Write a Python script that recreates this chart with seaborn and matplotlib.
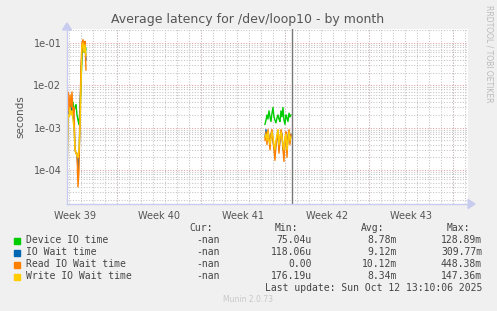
import numpy as np
import pandas as pd
import matplotlib
matplotlib.use("Agg")
import matplotlib.pyplot as plt
import matplotlib.ticker as mticker
import seaborn as sns

# ---- data ----
series_names = ["Device IO time", "IO Wait time", "Read IO Wait time", "Write IO Wait time"]
series_colors = ["#00CC00", "#0066B3", "#FF8000", "#FFCC00"]

# time in days since start of week 39; samples every 2 hours
burst1_start = 2.83
burst2_start = 19.33
step = 1.0 / 12.0

device_b1 = [3.5e-3, 2.5e-3, 4e-3, 3e-3, 5e-3, 3e-3, 4e-3, 2.5e-3, 3e-3, 3.5e-3,
             2e-3, 1.5e-3, 1.2e-3, 3e-3, 1e-2, 5e-2, 8e-2, 6e-2, 9e-2, 7e-2]
iowait_b1 = [4e-5, 5e-3, 2e-3, 4e-3, 2.5e-3, 4e-3, 2e-3, 1.5e-3, 3e-4, 2.5e-4,
             2.3e-4, 1e-4, 2e-4, 1.5e-3, 2e-2, 6e-2, 1e-1, 7e-2, 9e-2, 4e-2]
read_b1 = [4e-5, 7e-3, 2.5e-3, 6e-3, 3e-3, 7e-3, 2e-3, 3e-3, 3e-4, 2.5e-4,
           2.5e-4, 4e-5, 1e-4, 2e-3, 3e-2, 1e-1, 1.2e-1, 8e-2, 1.1e-1, 2.3e-2]
write_b1 = [4e-5, 2e-3, 1.8e-3, 3e-3, 2e-3, 2.5e-3, 1.5e-3, 1e-3, 3e-4, 2.5e-4,
            2.2e-4, 2e-4, 3e-4, 1e-3, 1e-2, 8e-2, 1e-1, 6e-2, 9e-2, 5e-2]

device_b2 = [1.2e-3, 1.5e-3, 2e-3, 1.6e-3, 2.5e-3, 1.8e-3, 1.4e-3, 2.2e-3, 3e-3, 1.8e-3,
             1.5e-3, 1.3e-3, 1.7e-3, 2e-3, 1.6e-3, 1.4e-3, 2.5e-3, 1.8e-3, 3e-3, 1.5e-3,
             1.2e-3, 2e-3, 1.7e-3, 1.4e-3, 2.2e-3, 1.8e-3, 2e-3]
iowait_b2 = [6e-4, 9e-4, 5e-4, 8e-4, 6e-4, 4e-4, 7e-4, 8e-4, 5e-4, 3.5e-4,
             2.5e-4, 4e-4, 6e-4, 7e-4, 3e-4, 5e-4, 8e-4, 7e-4, 3.5e-4, 2.5e-4,
             5e-4, 7e-4, 3e-4, 6e-4, 8e-4, 5e-4, 7e-4]
read_b2 = [5e-4, 8e-4, 4e-4, 9e-4, 6e-4, 3e-4, 7e-4, 9e-4, 5e-4, 3e-4,
           1.7e-4, 4e-4, 6e-4, 8e-4, 2.5e-4, 5e-4, 9e-4, 7e-4, 3e-4, 1.6e-4,
           5e-4, 8e-4, 2e-4, 6e-4, 9e-4, 4e-4, 7e-4]
write_b2 = [6e-4, 7e-4, 5e-4, 8e-4, 5e-4, 4e-4, 6e-4, 8e-4, 6e-4, 4e-4,
            3e-4, 5e-4, 7e-4, 9e-4, 4e-4, 6e-4, 8e-4, 6e-4, 4e-4, 3e-4,
            6e-4, 7e-4, 3e-4, 5e-4, 8e-4, 5e-4, 6e-4]

week_labels = ["Week 39", "Week 40", "Week 41", "Week 42", "Week 43"]
week_centers = [3.5, 10.5, 17.5, 24.5, 31.5]
week_starts = [7, 14, 21, 28, 35]
now_x = 21.58

legend_cur = ["-nan", "-nan", "-nan", "-nan"]
legend_min = ["75.04u", "118.06u", "0.00", "176.19u"]
legend_avg = ["8.78m", "9.12m", "10.12m", "8.34m"]
legend_max = ["128.89m", "309.77m", "448.38m", "147.36m"]

# ---- build dataframe ----
rows = []
b1 = [device_b1, iowait_b1, read_b1, write_b1]
b2 = [device_b2, iowait_b2, read_b2, write_b2]
for name, v1, v2 in zip(series_names, b1, b2):
    for i, v in enumerate(v1):
        rows.append((burst1_start + i * step, v, name, 1))
    for i, v in enumerate(v2):
        rows.append((burst2_start + i * step, v, name, 2))
df = pd.DataFrame(rows, columns=["day", "value", "series", "segment"])

# ---- figure ----
W, H = 497, 311
fig = plt.figure(figsize=(W / 100, H / 100), dpi=100, facecolor="#F0F0F0")
L, R, T, B = 67, 468, 29, 204
ax = fig.add_axes([L / W, 1 - B / H, (R - L) / W, (B - T) / H])
ax.set_facecolor("white")

ax.set_yscale("log")
ax.set_ylim(1.58e-5, 0.214)
ax.set_xlim(2.83, 36.25)

# grid
ax.yaxis.set_major_locator(mticker.FixedLocator([1e-4, 1e-3, 1e-2, 1e-1]))
ax.yaxis.set_major_formatter(mticker.FuncFormatter(lambda v, p: f"{v:.0e}"))
ax.yaxis.set_minor_locator(mticker.LogLocator(base=10, subs=np.arange(2, 10)))
ax.yaxis.set_minor_formatter(mticker.NullFormatter())
ax.xaxis.set_major_locator(mticker.FixedLocator(week_centers))
ax.xaxis.set_major_formatter(mticker.FixedFormatter(week_labels))
ax.xaxis.set_minor_locator(mticker.MultipleLocator(1))

dots = (0, (1, 1.6))
ax.grid(which="minor", axis="both", color="#C4C4C4", linestyle=dots, linewidth=0.75)
ax.grid(which="major", axis="y", color="#E6A0A0", linestyle=dots, linewidth=0.75)
ax.grid(which="major", axis="x", visible=False)
for ws in week_starts:
    ax.axvline(ws, color="#E6A0A0", linestyle=dots, linewidth=0.75, zorder=0.5)
ax.set_axisbelow(True)

sns.lineplot(data=df, x="day", y="value", hue="series", units="segment",
             estimator=None, hue_order=series_names, palette=series_colors,
             linewidth=1.0, legend=False, ax=ax)

ax.axvline(now_x, color="#777777", linewidth=1.0)

ax.set_xlabel("")
ax.set_ylabel("seconds", fontsize=7.5, color="#555555", labelpad=6)
ax.tick_params(axis="both", which="major", labelsize=7, colors="#555555", length=0)
ax.tick_params(axis="both", which="minor", length=0)
ax.tick_params(axis="x", pad=5)
ax.tick_params(axis="y", pad=4)
for s in ["top", "right"]:
    ax.spines[s].set_visible(False)
for s in ["left", "bottom"]:
    ax.spines[s].set_color("#C8CCEE")
    ax.spines[s].set_linewidth(1.0)

# axis arrows
fig.patches.append(matplotlib.patches.FancyArrow(
    L / W, 1 - (T + 1) / H, 0, 0.0001, width=0, head_width=9 / W, head_length=7 / H,
    transform=fig.transFigure, color="#C8CCEE", length_includes_head=False))
fig.patches.append(matplotlib.patches.FancyArrow(
    R / W, 1 - B / H, 0.0001, 0, width=0, head_width=9 / H, head_length=7 / W,
    transform=fig.transFigure, color="#C8CCEE", length_includes_head=False))

def px(x, y):
    return x / W, 1 - y / H

fig.text(*px(248, 19), "Average latency for /dev/loop10 - by month", ha="center", va="center",
         fontsize=9, color="#555555")
fig.text(*px(489, 5), "RRDTOOL / TOBI OETIKER", rotation=270, ha="center", va="top",
         fontsize=5.5, color="#BBBBBB")

mono = "DejaVu Sans Mono"
fs = 7
fig.text(*px(213, 228), "Cur:", ha="right", va="center", family=mono, fontsize=fs, color="#444444")
fig.text(*px(298, 228), "Min:", ha="right", va="center", family=mono, fontsize=fs, color="#444444")
fig.text(*px(384, 228), "Avg:", ha="right", va="center", family=mono, fontsize=fs, color="#444444")
fig.text(*px(470, 228), "Max:", ha="right", va="center", family=mono, fontsize=fs, color="#444444")
row_y = [240, 252, 264, 276]
for i, name in enumerate(series_names):
    y = row_y[i]
    fig.patches.append(matplotlib.patches.Rectangle(px(14, y + 3.5), 6 / W, 6 / H,
                       transform=fig.transFigure, color=series_colors[i]))
    fig.text(*px(26, y), name, ha="left", va="center", family=mono, fontsize=fs, color="#444444")
    fig.text(*px(220, y), legend_cur[i], ha="right", va="center", family=mono, fontsize=fs, color="#444444")
    fig.text(*px(312, y), legend_min[i], ha="right", va="center", family=mono, fontsize=fs, color="#444444")
    fig.text(*px(397, y), legend_avg[i], ha="right", va="center", family=mono, fontsize=fs, color="#444444")
    fig.text(*px(482, y), legend_max[i], ha="right", va="center", family=mono, fontsize=fs, color="#444444")
fig.text(*px(482, 288), "Last update: Sun Oct 12 13:10:06 2025", ha="right", va="center",
         family=mono, fontsize=fs, color="#444444")
fig.text(*px(248, 300), "Munin 2.0.73", ha="center", va="center", fontsize=5.5, color="#C8C8C8")

fig.savefig("out.png", dpi=100, facecolor=fig.get_facecolor())
